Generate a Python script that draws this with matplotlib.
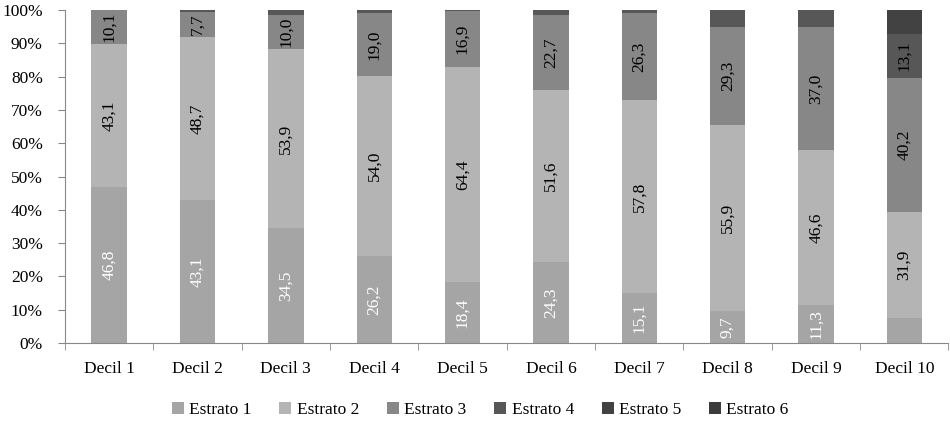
import matplotlib.pyplot as plt
import numpy as np

plt.rcParams['font.family'] = ['Liberation Serif', 'DejaVu Serif']

deciles = ['Decil %d' % i for i in range(1, 11)]
series = ['Estrato 1', 'Estrato 2', 'Estrato 3', 'Estrato 4', 'Estrato 5', 'Estrato 6']
e1 = [46.8, 43.1, 34.5, 26.2, 18.4, 24.3, 15.1, 9.7, 11.3, 7.6]
e2 = [43.1, 48.7, 53.9, 54.0, 64.4, 51.6, 57.8, 55.9, 46.6, 31.9]
e3 = [10.1, 7.7, 10.0, 19.0, 16.9, 22.7, 26.3, 29.3, 37.0, 40.2]
e4 = [0.0, 0.5, 1.6, 0.8, 0.3, 1.4, 0.8, 5.1, 5.1, 13.1]
e5 = [0.0, 0.0, 0.0, 0.0, 0.0, 0.0, 0.0, 0.0, 0.0, 7.1]
e6 = [0.0, 0.0, 0.0, 0.0, 0.0, 0.0, 0.0, 0.0, 0.0, 0.1]

colors = ['#a5a5a5', '#b4b4b4', '#878787', '#575757', '#424242', '#3b3b3b']
txtcol = ['white', 'black', 'black', 'black', 'white', 'white']

fig = plt.figure(figsize=(9.5, 4.22), dpi=100)
ax = fig.add_axes([0.0684, 0.187, 0.93, 0.789])

x = np.arange(len(deciles))
bottom = np.zeros(len(deciles))
for vals, name, c, tc in zip([e1, e2, e3, e4, e5, e6], series, colors, txtcol):
    vals = np.array(vals)
    ax.bar(x, vals, 0.4, bottom=bottom, color=c, label=name)
    for xi, v, b in zip(x, vals, bottom):
        if v >= 7.7:
            ax.text(xi, b + v / 2, ('%.1f' % v).replace('.', ','), rotation=90,
                    ha='center', va='center', color=tc, fontsize=12.5)
    bottom += vals

ax.set_xlim(-0.5, 9.5)
ax.set_ylim(0, 100)
ax.set_yticks(np.arange(0, 101, 10))
ax.set_yticklabels(['%d%%' % v for v in range(0, 101, 10)], fontsize=12.5)
ax.set_xticks(x)
ax.set_xticklabels(deciles, fontsize=12.5)
ax.set_xticks(np.arange(-0.5, 10, 1), minor=True)
ax.tick_params(axis='x', which='major', length=0, pad=13)
ax.tick_params(axis='x', which='minor', length=5, color='#888888')
ax.tick_params(axis='y', length=5, color='#888888', pad=11)
for s in ['top', 'right']:
    ax.spines[s].set_visible(False)
for s in ['left', 'bottom']:
    ax.spines[s].set_color('#888888')

ax.legend(loc='center', bbox_to_anchor=(0.47, -0.2), ncol=6, frameon=False,
          fontsize=12.5, handlelength=0.7, handleheight=0.7, handletextpad=0.3,
          columnspacing=1.6)

fig.savefig('out.png')
